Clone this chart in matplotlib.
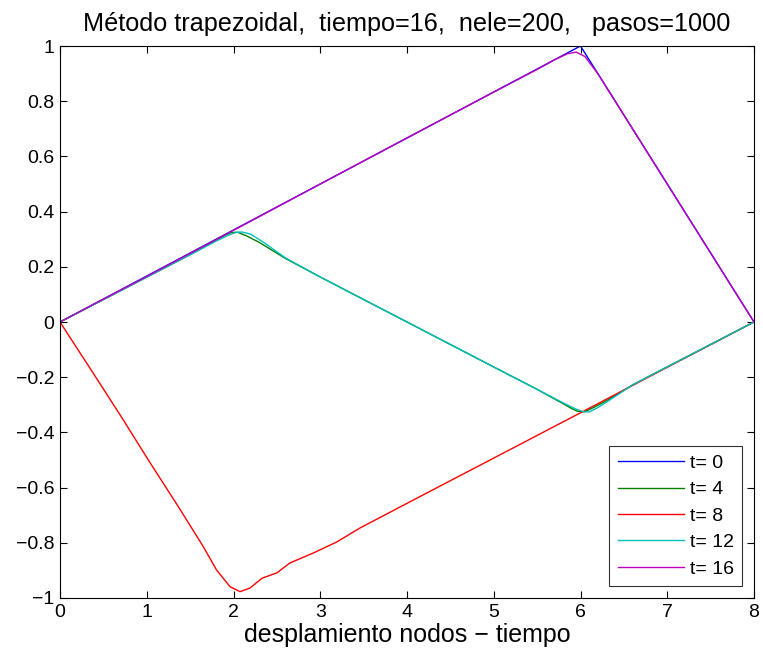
import matplotlib
matplotlib.use("Agg")
import matplotlib.pyplot as plt

plt.rcParams['font.family'] = ['Liberation Sans', 'DejaVu Sans']

labels = ["t= 0", "t= 4", "t= 8", "t= 12", "t= 16"]
colors = ["#0000ff", "#008000", "#ff0000", "#00bfbf", "#bf00bf"]

x_t0 = [0, 6, 8]
y_t0 = [0, 1, 0]

x_t4 = [0, 1, 1.5, 1.8, 1.9, 1.97, 2.05, 2.15, 2.3, 2.6, 3, 4, 5, 5.5, 5.8, 5.9, 5.97, 6.05, 6.15, 6.3, 6.6, 7, 8]
y_t4 = [0, 0.1625, 0.244, 0.296, 0.314, 0.324, 0.325, 0.312, 0.288, 0.23, 0.163, 0.0, -0.163, -0.244, -0.296, -0.314, -0.324, -0.325, -0.31, -0.285, -0.228, -0.1625, 0]

x_t8 = [0, 0.384, 0.73, 1.018, 1.364, 1.652, 1.806, 1.96, 2.075, 2.19, 2.33, 2.5, 2.65, 2.92, 3.19, 3.46, 4, 5, 6, 7, 8]
y_t8 = [0, -0.186, -0.355, -0.5, -0.669, -0.814, -0.899, -0.959, -0.977, -0.964, -0.928, -0.909, -0.873, -0.837, -0.797, -0.746, -0.657, -0.493, -0.329, -0.164, 0]

x_t12 = [0, 1, 1.5, 1.8, 1.95, 2.03, 2.1, 2.2, 2.35, 2.6, 3, 4, 5, 5.5, 5.8, 5.95, 6.03, 6.1, 6.2, 6.35, 6.6, 7, 8]
y_t12 = [0, 0.1625, 0.244, 0.293, 0.316, 0.325, 0.326, 0.318, 0.288, 0.232, 0.163, 0.0, -0.163, -0.244, -0.293, -0.316, -0.325, -0.326, -0.31, -0.28, -0.228, -0.1625, 0]

x_t16 = [0, 1, 2, 3, 4, 5, 5.5, 5.7, 5.85, 5.95, 6.05, 6.2, 6.5, 7, 8]
y_t16 = [0, 0.165, 0.332, 0.5, 0.667, 0.833, 0.915, 0.95, 0.972, 0.978, 0.962, 0.9, 0.75, 0.5, 0]

xs = [x_t0, x_t4, x_t8, x_t12, x_t16]
ys = [y_t0, y_t4, y_t8, y_t12, y_t16]

fig = plt.figure(figsize=(7.63, 6.57), dpi=100)
ax = fig.add_axes([60/763, 59/657, 694/763, 552/657])
for x, y, c, l in zip(xs, ys, colors, labels):
    ax.plot(x, y, color=c, lw=1.0, label=l)

ax.set_xlim(0, 8)
ax.set_ylim(-1, 1)
ax.set_xticks(range(0, 9))
ax.set_yticks([-1, -0.8, -0.6, -0.4, -0.2, 0, 0.2, 0.4, 0.6, 0.8, 1])
ax.set_yticklabels(["\u22121", "\u22120.8", "\u22120.6", "\u22120.4", "\u22120.2", "0", "0.2", "0.4", "0.6", "0.8", "1"])
ax.tick_params(direction='in', top=True, right=True, labelsize=14, length=5, width=0.8, pad=4)
for s in ax.spines.values():
    s.set_linewidth(0.8)
ax.set_title("Método trapezoidal,  tiempo=16,  nele=200,   pasos=1000", fontsize=18.2, pad=11)
ax.set_xlabel("desplamiento nodos \u2212 tiempo", fontsize=18, labelpad=2)

leg = ax.legend(loc='lower right', fontsize=14, frameon=True, fancybox=False,
                edgecolor='black', handlelength=3.4, handletextpad=0.3,
                borderaxespad=0.6, labelspacing=0.45, borderpad=0.45)
leg.get_frame().set_linewidth(0.8)

fig.savefig("out.png", dpi=100)
